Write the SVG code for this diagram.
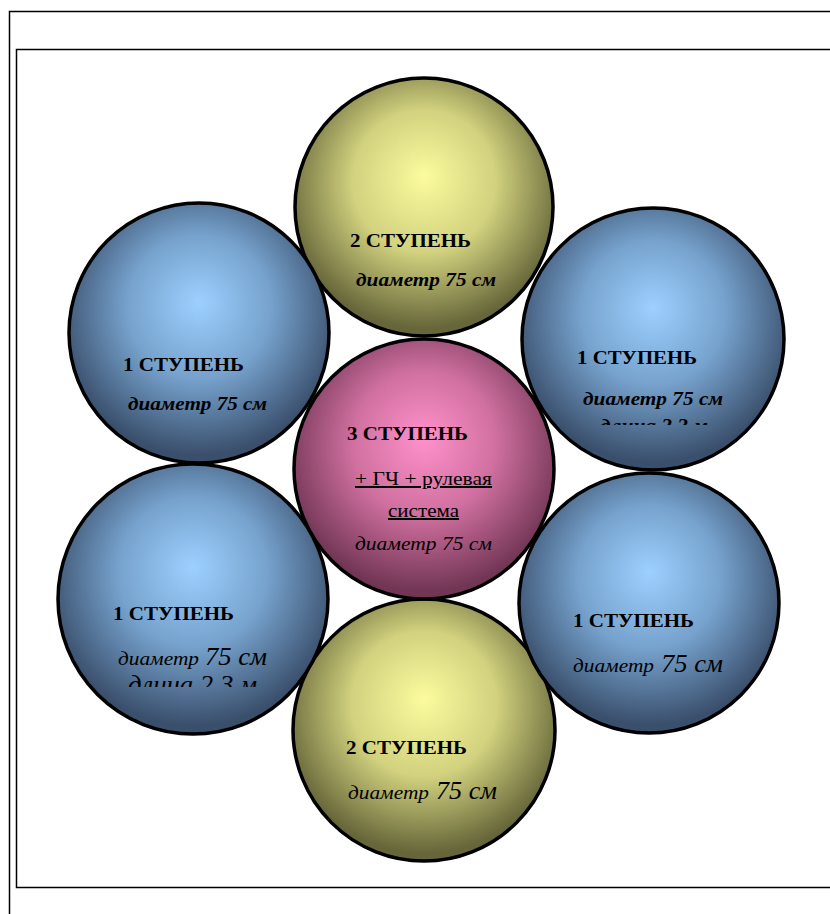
<svg xmlns="http://www.w3.org/2000/svg" width="830" height="914" viewBox="0 0 830 914">
<style>
.c{stroke:#000;stroke-width:3.5}
.h{font-family:"Liberation Serif","Times New Roman",serif;font-weight:bold;font-size:19.5px;fill:#000}
.bi{font-family:"Liberation Serif","Times New Roman",serif;font-weight:bold;font-style:italic;font-size:19.5px;fill:#000}
.i{font-family:"Liberation Serif","Times New Roman",serif;font-style:italic;font-size:19.5px;fill:#000}
.r{font-family:"Liberation Serif","Times New Roman",serif;font-size:19.5px;fill:#000}
.big{font-size:25px}
.frame{fill:none;stroke:#000;stroke-width:1.5}
</style>
<defs>
<radialGradient id="gy" cx="50%" cy="42%" r="55%" fx="50%" fy="38%">
<stop offset="0" stop-color="#fbfb9e"/>
<stop offset="0.5" stop-color="#d2d27f"/>
<stop offset="1" stop-color="#66663a"/>
</radialGradient>
<radialGradient id="gb" cx="50%" cy="42%" r="55%" fx="50%" fy="38%">
<stop offset="0" stop-color="#9dd0ff"/>
<stop offset="0.5" stop-color="#76a2cd"/>
<stop offset="1" stop-color="#3a4f6c"/>
</radialGradient>
<radialGradient id="gp" cx="50%" cy="42%" r="55%" fx="50%" fy="38%">
<stop offset="0" stop-color="#ff91cb"/>
<stop offset="0.5" stop-color="#d070a0"/>
<stop offset="1" stop-color="#723655"/>
</radialGradient>
<clipPath id="k1"><rect x="500" y="300" width="300" height="125"/></clipPath>
<clipPath id="k2"><rect x="50" y="600" width="300" height="87"/></clipPath>
<clipPath id="k3"><rect x="500" y="600" width="300" height="86"/></clipPath>
<clipPath id="k4"><rect x="280" y="700" width="300" height="113"/></clipPath>
</defs>
<rect width="830" height="914" fill="#fff"/>
<g id="frames">
<path class="frame" d="M832 11.5 H9.5 V916"/>
<path class="frame" d="M832 49.5 H16.5 V887.5 H832"/>
</g>
<g id="connectors"></g>
<g id="n-top">
<circle class="c" cx="424" cy="207" r="129" fill="url(#gy)"/>
<text class="h" x="350" y="247" textLength="121" lengthAdjust="spacingAndGlyphs">2 СТУПЕНЬ</text>
<text class="bi" x="356" y="286" textLength="140" lengthAdjust="spacingAndGlyphs">диаметр 75 см</text>
</g>
<g id="n-bottom">
<circle class="c" cx="424" cy="730" r="131" fill="url(#gy)"/>
<text class="h" x="346" y="754" textLength="121" lengthAdjust="spacingAndGlyphs">2 СТУПЕНЬ</text>
<text class="i" x="348" y="799" textLength="81" lengthAdjust="spacingAndGlyphs">диаметр</text>
<text class="i big" x="436" y="799" textLength="61" lengthAdjust="spacingAndGlyphs">75 см</text>
<text class="i big" x="362" y="831" clip-path="url(#k4)">длина 2,3 м</text>
</g>
<g id="n-center">
<circle class="c" cx="424" cy="469" r="130" fill="url(#gp)"/>
<text class="h" x="347" y="440" textLength="121" lengthAdjust="spacingAndGlyphs">3 СТУПЕНЬ</text>
<text class="r" x="355" y="485" text-decoration="underline" textLength="137" lengthAdjust="spacingAndGlyphs">+ ГЧ + рулевая</text>
<text class="r" x="388" y="517" text-decoration="underline" textLength="71" lengthAdjust="spacingAndGlyphs">система</text>
<text class="i" x="355" y="550" textLength="137" lengthAdjust="spacingAndGlyphs">диаметр 75 см</text>
</g>
<g id="n-lt">
<circle class="c" cx="199" cy="333" r="130" fill="url(#gb)"/>
<text class="h" x="123" y="371" textLength="121" lengthAdjust="spacingAndGlyphs">1 СТУПЕНЬ</text>
<text class="bi" x="128" y="410" textLength="139" lengthAdjust="spacingAndGlyphs">диаметр 75 см</text>
</g>
<g id="n-rt">
<circle class="c" cx="653" cy="339" r="131" fill="url(#gb)"/>
<text class="h" x="577" y="364" textLength="120" lengthAdjust="spacingAndGlyphs">1 СТУПЕНЬ</text>
<text class="bi" x="583" y="405" textLength="140" lengthAdjust="spacingAndGlyphs">диаметр 75 см</text>
<text class="bi" x="600" y="432" textLength="108" lengthAdjust="spacingAndGlyphs" clip-path="url(#k1)">длина 2,3 м</text>
</g>
<g id="n-lb">
<circle class="c" cx="193" cy="599" r="135" fill="url(#gb)"/>
<text class="h" x="113" y="620" textLength="121" lengthAdjust="spacingAndGlyphs">1 СТУПЕНЬ</text>
<text class="i" x="118" y="665" textLength="81" lengthAdjust="spacingAndGlyphs">диаметр</text>
<text class="i big" x="205" y="665" textLength="62" lengthAdjust="spacingAndGlyphs">75 см</text>
<text class="i big" x="128" y="693" textLength="129" lengthAdjust="spacingAndGlyphs" clip-path="url(#k2)">длина 2,3 м</text>
</g>
<g id="n-rb">
<circle class="c" cx="649" cy="603" r="130" fill="url(#gb)"/>
<text class="h" x="573" y="627" textLength="121" lengthAdjust="spacingAndGlyphs">1 СТУПЕНЬ</text>
<text class="i" x="573" y="672" textLength="81" lengthAdjust="spacingAndGlyphs">диаметр</text>
<text class="i big" x="661" y="672" textLength="62" lengthAdjust="spacingAndGlyphs">75 см</text>
<text class="i big" x="590" y="705" clip-path="url(#k3)">длина 2,3 м</text>
</g>
</svg>
